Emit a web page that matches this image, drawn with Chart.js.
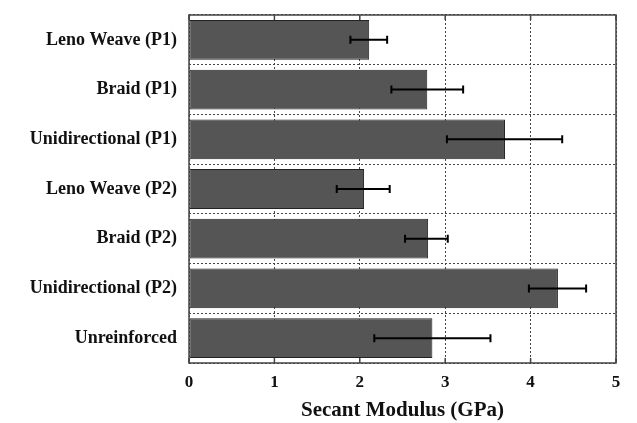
<!DOCTYPE html>
<html>
<head>
    <title>Secant Modulus</title>
    <script src="https://cdn.jsdelivr.net/npm/chart.js"></script>
    <style>
        body { margin: 0; background: #fff; }
        #wrap { width: 637px; height: 423px; }
    </style>
</head>
<body>
<div id="wrap"><canvas id="myChart" width="637" height="423"></canvas></div>
<script>
    // values
    const categories = ['Leno Weave (P1)', 'Braid (P1)', 'Unidirectional (P1)', 'Leno Weave (P2)',
        'Braid (P2)', 'Unidirectional (P2)', 'Unreinforced'];
    const modulus = [2.11, 2.79, 3.70, 2.05, 2.80, 4.32, 2.85];
    const errLow = [1.89, 2.37, 3.02, 1.73, 2.53, 3.98, 2.17];
    const errHigh = [2.32, 3.21, 4.37, 2.35, 3.03, 4.65, 3.53];
    const xTicks = [0, 1, 2, 3, 4, 5];

    const serif = "'Liberation Serif', 'DejaVu Serif', serif";

    // error bars + plot frame + inner tick marks
    const extras = {
        id: 'extras',
        afterDatasetsDraw(chart) {
            const ctx = chart.ctx;
            const x = chart.scales.x, y = chart.scales.y;
            const area = chart.chartArea;
            ctx.save();
            ctx.strokeStyle = '#000';
            ctx.lineWidth = 2;
            for (let i = 0; i < categories.length; i++) {
                const yc = y.getPixelForValue(i);
                const x1 = x.getPixelForValue(errLow[i]);
                const x2 = x.getPixelForValue(errHigh[i]);
                ctx.beginPath();
                ctx.moveTo(x1, yc); ctx.lineTo(x2, yc);
                ctx.moveTo(x1, yc - 4); ctx.lineTo(x1, yc + 4);
                ctx.moveTo(x2, yc - 4); ctx.lineTo(x2, yc + 4);
                ctx.stroke();
            }
            ctx.strokeStyle = '#444';
            ctx.lineWidth = 1.5;
            ctx.strokeRect(area.left, area.top, area.right - area.left, area.bottom - area.top);
            xTicks.forEach(t => {
                const px = x.getPixelForValue(t);
                ctx.beginPath();
                ctx.moveTo(px, area.top); ctx.lineTo(px, area.top + 5);
                ctx.moveTo(px, area.bottom); ctx.lineTo(px, area.bottom - 5);
                ctx.stroke();
            });
            ctx.restore();
        }
    };

    const ctx = document.getElementById('myChart').getContext('2d');
    const myChart = new Chart(ctx, {
        type: 'bar',
        data: {
            labels: categories,
            datasets: [{
                data: modulus,
                backgroundColor: '#555555',
                borderColor: '#222',
                borderWidth: 1,
                borderSkipped: false,
                categoryPercentage: 1.0,
                barPercentage: 0.8
            }]
        },
        options: {
            indexAxis: 'y',
            responsive: false,
            animation: false,
            layout: { padding: { left: 0, top: 15, right: 21, bottom: 0 } },
            plugins: { legend: { display: false }, tooltip: { enabled: false } },
            scales: {
                x: {
                    min: 0,
                    max: 5,
                    afterBuildTicks: s => { s.ticks = xTicks.map(v => ({ value: v })); },
                    afterFit: s => { s.height = 60; s.paddingLeft = 0; s.paddingRight = 0; },
                    grid: { color: '#444', lineWidth: 1, drawTicks: false },
                    border: { display: false, dash: [2, 2] },
                    ticks: { color: '#111', padding: 9, font: { family: serif, size: 17, weight: 'bold' } },
                    title: {
                        display: true,
                        text: 'Secant Modulus (GPa)',
                        color: '#111',
                        padding: { top: 0, bottom: 0 },
                        font: { family: serif, size: 21, weight: 'bold' }
                    }
                },
                y: {
                    afterFit: s => { s.width = 189; s.paddingTop = 0; s.paddingBottom = 0; },
                    grid: { color: '#444', lineWidth: 1, drawTicks: false, offset: true },
                    border: { display: false, dash: [2, 2] },
                    ticks: { color: '#111', padding: 12, font: { family: serif, size: 18, weight: 'bold' } }
                }
            }
        },
        plugins: [extras]
    });
</script>
</body>
</html>
